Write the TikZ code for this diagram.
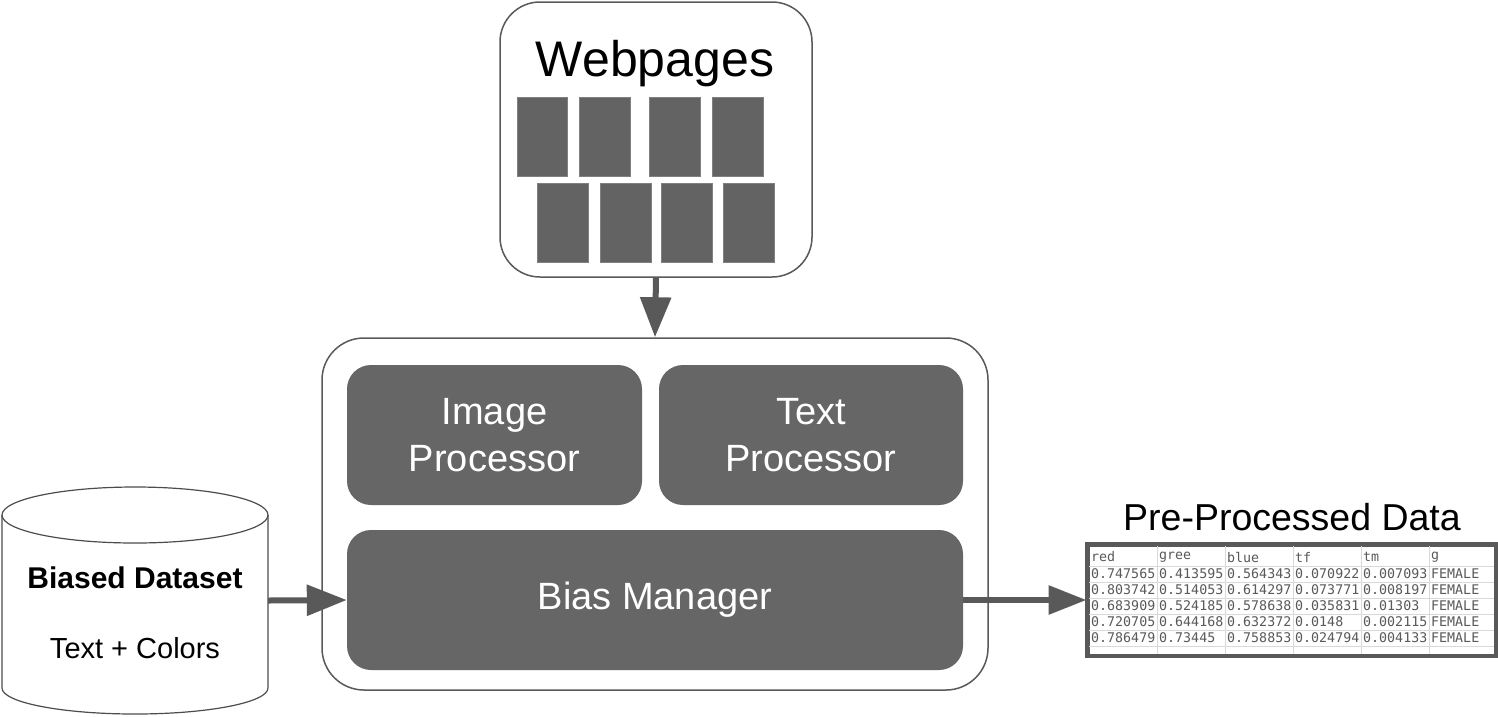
\documentclass[tikz,border=0pt]{standalone}
\usepackage{fontspec}
\setmainfont{Liberation Sans}
\setmonofont{DejaVu Sans Mono}
\usetikzlibrary{arrows.meta,positioning}

\definecolor{boxgray}{HTML}{666666}
\definecolor{pagegray}{HTML}{636363}
\definecolor{linegray}{HTML}{595959}
\definecolor{gridgray}{HTML}{D9D9D9}

\tikzset{
  outerbox/.style={draw=linegray, line width=1.5pt, rounded corners=42pt, fill=white},
  procbox/.style={fill=boxgray, rounded corners=24pt, text=white, align=center,
    font=\fontsize{38}{47}\selectfont},
  pagebox/.style={fill=pagegray, draw=gray, line width=0.8pt},
  flow/.style={draw=linegray, line width=6pt, -{Triangle[length=40pt,width=30pt]}},
  dbline/.style={draw=black!70, line width=1.2pt},
  cell/.style={anchor=west, inner sep=0pt, text=black!65, font=\ttfamily\fontsize{13.3}{13}\selectfont}
}

\begin{document}
\begin{tikzpicture}[x=1pt,y=-1pt]
\useasboundingbox (0,0) rectangle (1498,716);

% webpages
\node[outerbox, rounded corners=40pt, minimum width=312pt, minimum height=275pt] (web) at (656,139.5) {};
\node[font=\fontsize{50}{50}\selectfont] (webtitle) at (655,64) {Webpages};

\filldraw[pagebox] (517, 97) rectangle (567,176);
\filldraw[pagebox] (579, 97) rectangle (630,176);
\filldraw[pagebox] (649, 97) rectangle (700,176);
\filldraw[pagebox] (712, 97) rectangle (763,176);

\filldraw[pagebox] (537,183) rectangle (588,262);
\filldraw[pagebox] (600,183) rectangle (651,262);
\filldraw[pagebox] (661,183) rectangle (712,262);
\filldraw[pagebox] (723,183) rectangle (774,262);

% main block
\node[outerbox, minimum width=666pt, minimum height=352pt] (core) at (655,514) {};
\node[procbox, minimum width=295pt, minimum height=140pt] (img) at (494.5,435) {Image\\Processor};
\node[procbox, minimum width=304pt, minimum height=140pt] (txt) at (811,435) {Text\\Processor};
\node[procbox, minimum width=616pt, minimum height=140pt] (bias) at (655,600) {Bias Manager};

\draw[flow] (web.south) -- (core.north);

% dataset
\node[minimum width=266pt, minimum height=227pt, inner sep=0pt] (ds) at (135,600.5) {};
\draw[dbline, fill=white] (2,515) -- (2,688) arc[start angle=180, end angle=360, x radius=133pt, y radius=26pt] -- (268,515);
\draw[dbline] (135,515) ellipse[x radius=133pt, y radius=28pt];
\node[font=\bfseries\fontsize{30}{30}\selectfont] (dsname) at (135,578) {Biased Dataset};
\node[font=\fontsize{29}{29}\selectfont] (dskind) at (135,648) {Text + Colors};

\draw[flow] (ds.east) -- (bias.west);

% pre-processed table
\node[font=\fontsize{37.5}{37.5}\selectfont] (outtitle) at (1292,517) {Pre-Processed Data};
\node[draw=linegray, line width=3pt, fill=white, minimum width=407pt, minimum height=110pt, inner sep=0pt] (tab) at (1291.5,600) {};

\begin{scope}
\clip (1089,546) rectangle (1494,654);
\foreach \gx in {1157,1225,1293,1361,1429}
  \draw[gridgray, line width=1pt] (\gx,546) -- (\gx,654);
\foreach \gy in {566,582,598,614,630,646}
  \draw[gridgray, line width=1pt] (1089,\gy) -- (1494,\gy);
\foreach \ry/\ca/\cb/\cc/\cd/\ce/\cf in {
    557/red/gree/blue/tf/tm/g,
    574/0.747565/0.413595/0.564343/0.070922/0.007093/FEMALE,
    590/0.803742/0.514053/0.614297/0.073771/0.008197/FEMALE,
    606/0.683909/0.524185/0.578638/0.035831/0.01303/FEMALE,
    622/0.720705/0.644168/0.632372/0.0148/0.002115/FEMALE,
    638/0.786479/0.73445/0.758853/0.024794/0.004133/FEMALE}{
  \node[cell] at (1091,\ry) {\ca};
  \node[cell] at (1159,\ry) {\cb};
  \node[cell] at (1227,\ry) {\cc};
  \node[cell] at (1295,\ry) {\cd};
  \node[cell] at (1363,\ry) {\ce};
  \node[cell] at (1431,\ry) {\cf};
}
\end{scope}
\draw[linegray, line width=3pt] (tab.north west) rectangle (tab.south east);

\draw[flow, -{Triangle[length=38pt,width=28pt]}] (bias.east) -- (tab.west);

\end{tikzpicture}
\end{document}
